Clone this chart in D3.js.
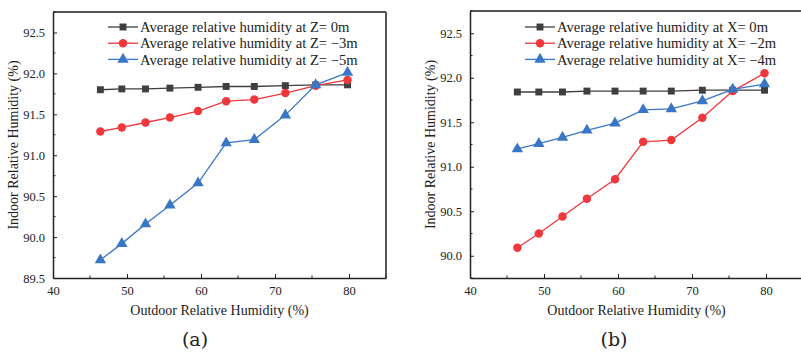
<!DOCTYPE html>
<html><head><meta charset="utf-8">
<script src="https://cdn.jsdelivr.net/npm/d3@7"></script>
<style>
html,body{margin:0;padding:0;background:#fff;}
svg{display:block;}
text{font-family:"Liberation Serif","Times New Roman",serif;fill:#222;}
</style></head>
<body>
<svg id="chart" width="801" height="352"></svg>
<script>
// Shared outdoor humidity values (x)
const outdoorRH = [46.4, 49.3, 52.5, 55.8, 59.6, 63.4, 67.2, 71.4, 75.5, 79.8];
const xTicks = [40, 50, 60, 70, 80];

// Panel (a)
const aLabels = ["Average relative humidity at Z= 0m", "Average relative humidity at Z= \u22123m", "Average relative humidity at Z= \u22125m"];
const aZ0  = [91.80, 91.81, 91.81, 91.82, 91.83, 91.84, 91.84, 91.85, 91.86, 91.86];
const aZm3 = [91.29, 91.34, 91.40, 91.46, 91.54, 91.66, 91.68, 91.76, 91.85, 91.92];
const aZm5 = [89.72, 89.92, 90.16, 90.39, 90.66, 91.15, 91.19, 91.49, 91.86, 92.01];
const aYTicks = [89.5, 90.0, 90.5, 91.0, 91.5, 92.0, 92.5];

// Panel (b)
const bLabels = ["Average relative humidity at X= 0m", "Average relative humidity at X= \u22122m", "Average relative humidity at X= \u22124m"];
const bX0  = [91.84, 91.84, 91.84, 91.85, 91.85, 91.85, 91.85, 91.86, 91.86, 91.86];
const bXm2 = [90.09, 90.25, 90.44, 90.64, 90.86, 91.28, 91.30, 91.55, 91.85, 92.05];
const bXm4 = [91.20, 91.26, 91.33, 91.41, 91.49, 91.64, 91.65, 91.74, 91.87, 91.93];
const bYTicks = [90.0, 90.5, 91.0, 91.5, 92.0, 92.5];

const colors = ["#3f3f3f", "#f0373c", "#3a76c6"];
const shapes = [d3.symbolSquare, d3.symbolCircle, d3.symbolTriangle];
const symSizes = [48, 56, 56];

const svg = d3.select("#chart");

function panel(cfg) {
  const g = svg.append("g");
  const x = d3.scaleLinear().domain([40, 85]).range([cfg.left, cfg.right]);
  const y = d3.scaleLinear().domain(cfg.yDomain).range([cfg.bottom, cfg.top]);

  // frame (top and right)
  g.append("line").attr("x1", cfg.left).attr("x2", cfg.right).attr("y1", cfg.top).attr("y2", cfg.top)
    .attr("stroke", "#555").attr("stroke-width", 2);
  g.append("line").attr("x1", cfg.right).attr("x2", cfg.right).attr("y1", cfg.top).attr("y2", cfg.bottom)
    .attr("stroke", "#555").attr("stroke-width", 2);

  // x axis
  const xa = g.append("g").attr("transform", `translate(0,${cfg.bottom})`)
    .call(d3.axisBottom(x).tickValues(xTicks).tickFormat(d3.format("d")).tickSizeInner(-4).tickSizeOuter(0).tickPadding(8));
  xa.append("g").selectAll("line").data([45, 55, 65, 75, 85]).join("line")
    .attr("x1", d => x(d)).attr("x2", d => x(d)).attr("y1", 0).attr("y2", -2.5).attr("stroke", "#222");
  // y axis
  const minorY = [];
  for (let v = cfg.yDomain[0]; v <= cfg.yDomain[1] + 1e-9; v += 0.25) minorY.push(+v.toFixed(2));
  const ya = g.append("g").attr("transform", `translate(${cfg.left},0)`)
    .call(d3.axisLeft(y).tickValues(cfg.yTicks).tickFormat(d3.format(".1f")).tickSizeInner(-4).tickSizeOuter(0).tickPadding(8));
  ya.append("g").selectAll("line").data(minorY.filter(v => !cfg.yTicks.includes(v))).join("line")
    .attr("x1", 0).attr("x2", 2.5).attr("y1", d => y(d)).attr("y2", d => y(d)).attr("stroke", "#222");
  [xa, ya].forEach(a => {
    a.attr("font-family", null);
    a.select(".domain").attr("stroke", "#222").attr("stroke-width", 1.5);
    a.selectAll(".tick line").attr("stroke", "#222");
    a.selectAll("text").style("font-family", "'Liberation Serif',serif").attr("font-size", 12.5).attr("fill", "#333");
  });

  // series
  cfg.series.forEach((vals, i) => {
    const pts = outdoorRH.map((xv, j) => [xv, vals[j]]);
    g.append("path").datum(pts)
      .attr("fill", "none").attr("stroke", colors[i]).attr("stroke-width", 1.3)
      .attr("d", d3.line().x(d => x(d[0])).y(d => y(d[1])));
    g.append("g").selectAll("path").data(pts).join("path")
      .attr("transform", d => `translate(${x(d[0])},${y(d[1])})`)
      .attr("d", d3.symbol().type(shapes[i]).size(symSizes[i]))
      .attr("fill", colors[i]);
  });

  // legend
  cfg.labels.forEach((lab, i) => {
    const ly = cfg.legY + i * 16.2;
    g.append("line").attr("x1", cfg.legX).attr("x2", cfg.legX + 30).attr("y1", ly).attr("y2", ly)
      .attr("stroke", colors[i]).attr("stroke-width", 1.3);
    g.append("path").attr("transform", `translate(${cfg.legX + 15},${ly})`)
      .attr("d", d3.symbol().type(shapes[i]).size(symSizes[i])).attr("fill", colors[i]);
    g.append("text").attr("x", cfg.legX + 32).attr("y", ly).attr("dy", "0.35em")
      .attr("font-size", 14.6).text(lab);
  });

  // axis titles
  g.append("text").attr("x", (cfg.left + cfg.right0) / 2).attr("y", cfg.bottom + 37)
    .attr("text-anchor", "middle").attr("font-size", 14).text("Outdoor Relative Humidity (%)");
  g.append("text").attr("transform", `translate(${cfg.left - 35},${(cfg.top + cfg.bottom) / 2}) rotate(-90)`)
    .attr("text-anchor", "middle").attr("font-size", 14).text("Indoor Relative Humidity (%)");
  g.append("text").attr("x", cfg.tagX).attr("y", 346).attr("text-anchor", "middle")
    .attr("font-size", 19).style("font-family", "'DejaVu Serif',serif").attr("fill", "#000").text(cfg.tag);
}

panel({left: 53, right: 386, right0: 386, top: 12, bottom: 278, yDomain: [89.5, 92.75], yTicks: aYTicks,
  series: [aZ0, aZm3, aZm5], labels: aLabels, legX: 108, legY: 27, tag: "(a)", tagX: 195});
panel({left: 470, right: 803, right0: 803, top: 11, bottom: 278, yDomain: [89.75, 92.75], yTicks: bYTicks,
  series: [bX0, bXm2, bXm4], labels: bLabels, legX: 525, legY: 27, tag: "(b)", tagX: 614});
</script>
</body></html>
